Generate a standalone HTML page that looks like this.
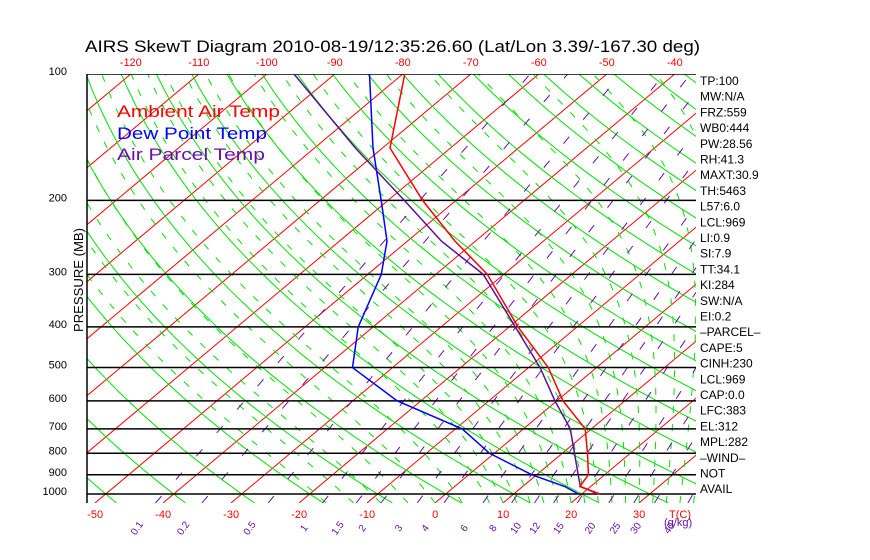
<!DOCTYPE html>
<html><head><meta charset="utf-8"><style>
html,body{margin:0;padding:0;background:#fff;}
svg{display:block;font-family:"Liberation Sans",sans-serif;}
</style></head><body>
<svg id="chart" width="870" height="560" viewBox="0 0 870 560" xmlns="http://www.w3.org/2000/svg">
<rect width="870" height="560" fill="#fff"/>
<defs><clipPath id="plotclip"><rect x="87" y="74" width="609" height="429"/></clipPath></defs>
<text x="85" y="52" font-size="17" textLength="615" lengthAdjust="spacingAndGlyphs" fill="#000">AIRS SkewT Diagram 2010-08-19/12:35:26.60 (Lat/Lon 3.39/-167.30 deg)</text>
<g id="grid" clip-path="url(#plotclip)"></g>
<g id="series" clip-path="url(#plotclip)"></g>
<g id="axes"></g>
<g font-size="17">
<text x="117" y="117" fill="#ff0000" textLength="163" lengthAdjust="spacingAndGlyphs">Ambient Air Temp</text>
<text x="117" y="139" fill="#0000ff" textLength="150" lengthAdjust="spacingAndGlyphs">Dew Point Temp</text>
<text x="117" y="160" fill="#6a0fa8" textLength="148" lengthAdjust="spacingAndGlyphs">Air Parcel Temp</text>
</g>
<text transform="translate(83,280) rotate(-90)" text-anchor="middle" font-size="13" fill="#000" textLength="104" lengthAdjust="spacingAndGlyphs">PRESSURE (MB)</text>
</svg>
<script>
const pressures = [100,150,200,250,300,400,500,600,700,800,900,960,1000];
const ambientTemp = [-79.7,-68.9,-54.9,-43,-32.4,-18.7,-7.1,0.9,9.1,13.7,17.6,18.4,22.7];
const dewPoint = [-84.9,-71.4,-61,-53,-48,-42.2,-35.9,-23.5,-9,-0.7,9.3,16.2,19.5];
const parcelTemp = [-96,-74,-57.6,-45,-33,-19.1,-8.3,-0.3,6.9,11.8,16.1,18.5,22.4];
const pressureTicks = [100,200,300,400,500,600,700,800,900,1000];
const topTempTicks = [-120,-110,-100,-90,-80,-70,-60,-50,-40];
const bottomTempTicks = [-50,-40,-30,-20,-10,0,10,20,30];
const mixingRatios = [0.1,0.2,0.5,1,1.5,2,3,4,6,8,10,12,15,20,25,30,40];
const indexLabels = ["TP:100","MW:N/A","FRZ:559","WB0:444","PW:28.56","RH:41.3","MAXT:30.9","TH:5463","L57:6.0","LCL:969","LI:0.9","SI:7.9","TT:34.1","KI:284","SW:N/A","EI:0.2","\u2013PARCEL\u2013","CAPE:5","CINH:230","LCL:969","CAP:0.0","LFC:383","EL:312","MPL:282","\u2013WIND\u2013","NOT","AVAIL"];

const NS="http://www.w3.org/2000/svg";
const Y0=74, KY=182.4, YB=503, X0=435, KX=6.8, SK=1.193;
function yP(p){return Y0+KY*Math.log(p/100);}
function xT(t,p){return X0+KX*t+SK*(YB-yP(p));}
function mk(tag,attrs,parent){const e=document.createElementNS(NS,tag);for(const k in attrs)e.setAttribute(k,attrs[k]);parent.appendChild(e);return e;}
const grid=document.getElementById('grid'), series=document.getElementById('series'), axes=document.getElementById('axes');
function polyline(pts){return pts.map(q=>q[0].toFixed(1)+','+q[1].toFixed(1)).join(' ');}

for(let t=-160;t<=50;t+=10){
  const l=mk('line',{x1:xT(t,1050),y1:yP(1050),x2:xT(t,100),y2:yP(100),stroke:'#ff0000','stroke-width':1},grid);
  
  
}
for(let th=-100;th<=200;th+=10){
  const pts=[];
  for(let p=1050;p>=100;p-=10){const T=(th+273.15)*Math.pow(p/1000,0.286)-273.15;pts.push([xT(T,p),yP(p)]);}
  const l=mk('polyline',{points:polyline(pts),fill:'none',stroke:'#00e000','stroke-width':1},grid);
  
  
}
function es(T){return 6.112*Math.exp(17.67*T/(T+243.5));}
const moistStarts=[-16,-12,-8,-4,0,4,8,10,12,14,16,18,20,22,24,26,28,30,32,34,36,38,40];
for(const t0 of moistStarts){
  let T=t0+273.15, pts=[];
  for(let p=1050;p>=100;p-=5){
    pts.push([xT(T-273.15,p),yP(p)]);
    const e=es(T-273.15), rs=0.622*e/(p-e);
    const dTdp=(287*T+2.5e6*rs)/(1004+2.5e6*2.5e6*rs*0.622/(287*T*T))/p;
    T-=dTdp*5;
  }
  const l=mk('polyline',{points:polyline(pts),fill:'none',stroke:'#00e000','stroke-width':1,'stroke-dasharray':'7,11'},grid);
  
  
}
function tdW(w,p){const e=w*p/(622+w);const L=Math.log(e/6.112);return 243.5*L/(17.67-L);}
for(const w of mixingRatios){
  const l=mk('line',{x1:xT(tdW(w,1050),1050),y1:yP(1050),x2:xT(tdW(w,100),100),y2:yP(100),stroke:'#6a0fa8','stroke-width':1,'stroke-dasharray':'9,22'},grid);
  
  
}
for(const p of pressureTicks){
  const l=mk('line',{x1:87,y1:yP(p),x2:696,y2:yP(p),stroke:'#000','stroke-width':1.5},grid);
  
  
}
function drawSeries(vals,color,name,w){
  const pts=pressures.map((p,i)=>[xT(vals[i],p),yP(p)]);
  const l=mk('polyline',{points:polyline(pts),fill:'none',stroke:color,'stroke-width':w},series);
  
  
}
drawSeries(dewPoint,'#0000ff','dew-point-line',1.5);
drawSeries(parcelTemp,'#5a0f98','air-parcel-line',1.5);
drawSeries(ambientTemp,'#ff0000','ambient-temp-line',1.5);
const lb=mk('line',{x1:87,y1:74,x2:87,y2:503,stroke:'#000','stroke-width':1.5},axes);


for(const p of pressureTicks){
  const t=mk('text',{x:67,y:yP(p)+1,'text-anchor':'end','font-size':11,fill:'#000'},axes);
  t.textContent=p;
  
  
}
for(const tv of topTempTicks){
  const t=mk('text',{x:xT(tv,100),y:66,'text-anchor':'middle','font-size':11,fill:'#ff0000'},axes);
  t.textContent=tv;
  
  
}
for(const tv of bottomTempTicks){
  const t=mk('text',{x:xT(tv,1050),y:518,'text-anchor':'middle','font-size':11,fill:'#ff0000'},axes);
  t.textContent=tv;
  
  
}
const tc=mk('text',{x:680,y:518,'text-anchor':'middle','font-size':11,fill:'#ff0000'},axes);
tc.textContent='T(C)';


for(const w of mixingRatios){
  const x=xT(tdW(w,1050),1050)-16;
  const t=mk('text',{transform:'translate('+x.toFixed(1)+',530) rotate(-55)','text-anchor':'middle','font-size':10,fill:'#6a0fa8'},axes);
  t.textContent=w;
  
  
}
const gk=mk('text',{x:664,y:526,'font-size':11,fill:'#6a0fa8'},axes);
gk.textContent='(g/kg)';


indexLabels.forEach((s,i)=>{
  const t=mk('text',{x:700,y:85+i*15.7,'font-size':12,fill:'#000'},axes);
  t.textContent=s;
  
  
});
</script>
</body></html>
